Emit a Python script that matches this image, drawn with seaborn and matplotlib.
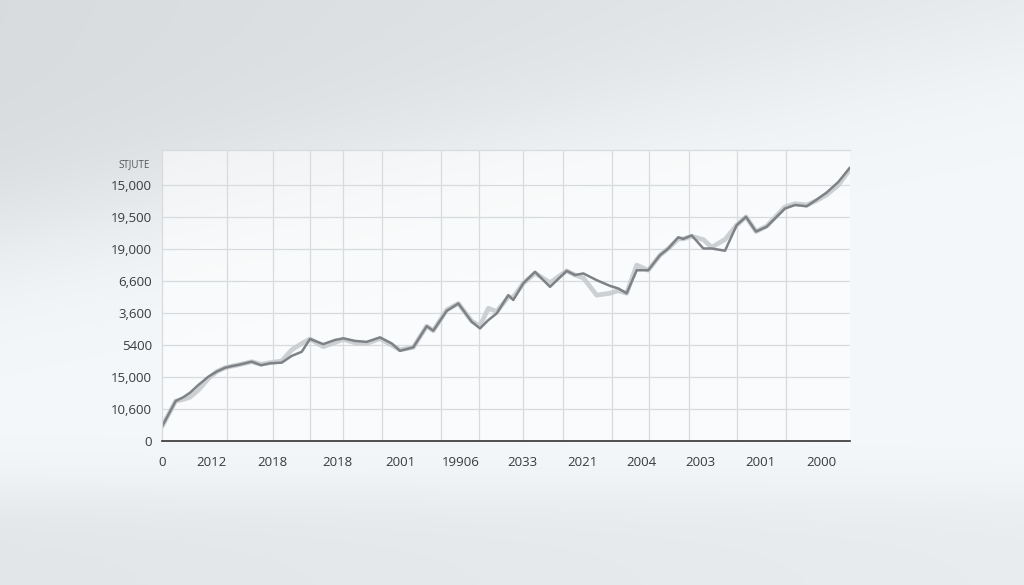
import matplotlib
matplotlib.use("Agg")
import matplotlib.pyplot as plt
import numpy as np
import pandas as pd
import seaborn as sns

# values (x: position along the axis 0-100, y: grid units)
x_pos = [0, 1.99, 3.10, 4.07, 5.28, 6.73, 7.95, 9.16, 10.13, 11.09, 12.06, 13.04,
         14.39, 15.70, 17.40, 18.85, 20.31, 21.51, 23.44, 25.15, 26.35, 28.05,
         29.75, 31.69, 33.39, 34.59, 36.53, 38.47, 39.43, 41.38, 43.07, 45.01,
         46.22, 47.43, 48.65, 50.33, 51.06, 52.51, 54.22, 56.40, 58.82, 60.03,
         61.24, 63.18, 65.12, 66.32, 67.54, 69.00, 70.68, 72.38, 73.59, 75.04,
         75.77, 76.99, 78.68, 79.90, 81.83, 83.53, 84.88, 86.34, 87.89, 90.55,
         92.01, 93.71, 95.16, 96.61, 98.30, 100]
main_vals = [0.45, 1.25, 1.37, 1.51, 1.75, 2.01, 2.17, 2.29, 2.34, 2.38, 2.43, 2.48,
             2.37, 2.43, 2.45, 2.66, 2.79, 3.19, 3.03, 3.16, 3.21, 3.13,
             3.10, 3.24, 3.05, 2.82, 2.93, 3.59, 3.45, 4.07, 4.30, 3.73,
             3.52, 3.78, 3.99, 4.56, 4.41, 4.93, 5.29, 4.82, 5.32, 5.19,
             5.24, 5.03, 4.85, 4.77, 4.62, 5.34, 5.34, 5.81, 6.02, 6.37,
             6.32, 6.43, 6.02, 6.02, 5.95, 6.75, 7.01, 6.55, 6.70, 7.27,
             7.38, 7.34, 7.55, 7.77, 8.10, 8.55]
shadow_vals = [0.45, 1.25, 1.30, 1.37, 1.59, 1.95, 2.17, 2.29, 2.34, 2.38, 2.43, 2.48,
               2.40, 2.45, 2.50, 2.85, 3.05, 3.19, 2.95, 3.08, 3.18, 3.07,
               3.05, 3.20, 3.00, 2.85, 2.93, 3.59, 3.45, 4.10, 4.30, 3.75,
               3.60, 4.15, 4.05, 4.50, 4.50, 4.93, 5.25, 4.95, 5.32, 5.19,
               5.10, 4.56, 4.62, 4.70, 4.62, 5.50, 5.34, 5.81, 6.02, 6.32,
               6.32, 6.40, 6.30, 6.06, 6.30, 6.75, 7.01, 6.55, 6.72, 7.32,
               7.42, 7.38, 7.52, 7.70, 8.00, 8.50]

x_ticks = [0, 7.2, 16.1, 25.5, 34.6, 43.4, 52.4, 61.1, 69.7, 78.3, 87.0, 95.9]
x_labels = ["0", "2012", "2018", "2018", "2001", "19906", "2033", "2021",
            "2004", "2003", "2001", "2000"]
x_grid = [9.45, 16.13, 21.51, 26.31, 31.98, 40.55, 46.08, 52.43, 58.24,
          65.41, 70.83, 76.64, 83.53, 90.70]
y_ticks = [0, 1, 2, 3, 4, 5, 6, 7, 8]
y_labels = ["0", "10,600", "15,000", "5400", "3,600", "6,600", "19,000",
            "19,500", "15,000"]

df = pd.DataFrame({"x": x_pos, "main": main_vals, "shadow": shadow_vals})

sns.set_style("white")
plt.rcParams["font.family"] = ["Open Sans", "DejaVu Sans"]

fig = plt.figure(figsize=(10.24, 5.85), dpi=100)

# soft grey studio backdrop
bg = fig.add_axes([0, 0, 1, 1], zorder=0)
H, W = 585, 1024
v, u = np.mgrid[0:H, 0:W]
u = u / W
v = v / H
top_dark = 0.11 / (1 + np.exp(-((0.40 - 0.34 * u) - v) / 0.07)) * (1 - 0.4 * u)
bot_dark = 0.07 / (1 + np.exp(-(v - 0.84) / 0.03)) * (1 - 0.35 * u)
val = 0.978 - top_dark - bot_dark
img = np.dstack([val - 0.02, val - 0.006, val + 0.004]).clip(0, 1)
bg.imshow(img, aspect="auto", extent=[0, 1, 0, 1])
bg.axis("off")

ax = fig.add_axes([162 / 1024, 1 - 441 / 585, 688 / 1024, 291 / 585], zorder=1)
ax.set_facecolor((1, 1, 1, 0.55))

sns.lineplot(data=df, x="x", y="shadow", ax=ax, color="#c8cccf", lw=3.4,
             estimator=None, alpha=0.9)
sns.lineplot(data=df, x="x", y="main", ax=ax, color="#7e8286", lw=1.8,
             estimator=None)

ax.set_xlim(0, 100)
ax.set_ylim(0, 9.1)
ax.set_xticks(x_ticks)
ax.set_xticklabels(x_labels)
ax.set_xticks(x_grid, minor=True)
ax.set_yticks(y_ticks)
ax.set_yticklabels(y_labels)

ax.grid(axis="y", which="major", color="#d8dbdd", lw=0.9)
ax.grid(axis="x", which="minor", color="#d8dbdd", lw=0.9)
ax.grid(axis="x", which="major", visible=False)

ax.tick_params(axis="x", which="major", length=5, width=1, color="#333333",
               direction="out", pad=6, labelsize=9.5, labelcolor="#3a3a3a")
ax.tick_params(axis="x", which="minor", length=0)
ax.tick_params(axis="y", length=0, pad=7, labelsize=9.5, labelcolor="#3a3a3a")

for side in ["left", "top", "right"]:
    ax.spines[side].set_color("#d8dbdd")
    ax.spines[side].set_linewidth(0.9)
ax.spines["right"].set_visible(False)
ax.spines["bottom"].set_color("#333333")
ax.spines["bottom"].set_linewidth(1.2)

ax.set_xlabel("")
ax.set_ylabel("")

fig.text(118 / 1024, 1 - 165 / 585, "STJUTE", fontsize=7, color="#555555",
         ha="left", va="center")

fig.savefig("out.png", dpi=100)
